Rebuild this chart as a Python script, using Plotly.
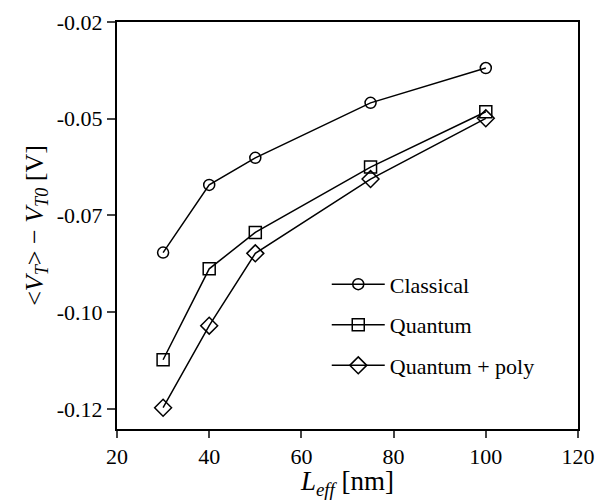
import plotly.graph_objects as go

L_eff = [30, 40, 50, 75, 100]
classical = [-0.0796, -0.0621, -0.0551, -0.0409, -0.0319]
quantum = [-0.1073, -0.0838, -0.0744, -0.0575, -0.0432]
quantum_poly = [-0.1197, -0.0985, -0.0798, -0.0606, -0.0449]

y_tickvals = [-0.12, -0.095, -0.07, -0.045, -0.02]
y_ticktext = ["-0.12", "-0.10", "-0.07", "-0.05", "-0.02"]
x_tickvals = [20, 40, 60, 80, 100, 120]

FONT = "Liberation Serif, Times New Roman, serif"

fig = go.Figure()
series = [
    ("Classical", classical, "circle-open", 11),
    ("Quantum", quantum, "square-open", 12),
    ("Quantum + poly", quantum_poly, "diamond-open", 13),
]
for name, vals, sym, sz in series:
    fig.add_trace(go.Scatter(
        x=L_eff, y=vals, name=name, mode="lines+markers", legendgroup=name,
        line=dict(color="black", width=1.5),
        marker=dict(symbol=sym, size=sz, color="black", line=dict(width=1.5, color="black")),
    ))

fig.update_layout(
    width=598, height=500,
    margin=dict(l=117, r=20, t=22, b=71),
    paper_bgcolor="white", plot_bgcolor="white",
    font=dict(family=FONT, size=22, color="black"),
    showlegend=True,
    legend=dict(x=0.455, y=0.407, xanchor="left", yanchor="top",
                bgcolor="rgba(0,0,0,0)", font=dict(size=22, family=FONT),
                itemwidth=53, tracegroupgap=9),
)
fig.update_xaxes(
    range=[20, 120], tickvals=x_tickvals, ticks="outside", ticklen=7, tickwidth=1.5,
    showline=True, linewidth=2, linecolor="black", mirror=True, showgrid=False, zeroline=False,
    automargin=False,
    tickfont=dict(size=22, family=FONT),
    title=dict(text="<i>L<sub>eff</sub></i> [nm]", font=dict(size=27, family=FONT), standoff=9),
)
fig.update_yaxes(
    range=[-0.1252, -0.02], tickvals=y_tickvals, ticktext=y_ticktext,
    ticks="outside", ticklen=8, tickwidth=1.5,
    showline=True, linewidth=2, linecolor="black", mirror=True, showgrid=False, zeroline=False,
    automargin=False,
    tickfont=dict(size=22, family=FONT),
    title=dict(text="&lt;<i>V<sub>T</sub></i>&gt; − <i>V<sub>T0</sub></i> [V]", font=dict(size=26, family=FONT), standoff=6),
)

fig.write_html("out.html", config={"displayModeBar": False},
               post_script="document.body.style.margin='0';document.body.style.overflow='hidden';")
